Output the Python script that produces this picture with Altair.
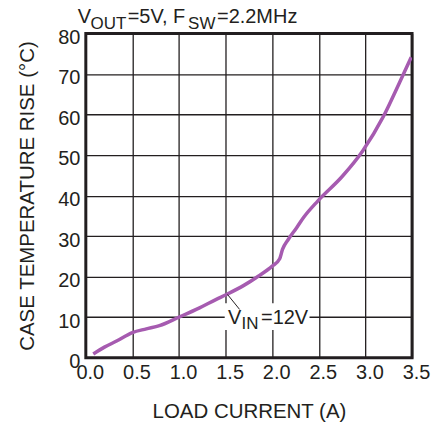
import altair as alt
import pandas as pd

# Curve data (V_IN = 12V)
load_current = [0.08, 0.2, 0.33, 0.5, 0.65, 0.79, 1.0, 1.22, 1.4, 1.51, 1.7, 1.85,
                2.0, 2.08, 2.11, 2.17, 2.26, 2.33, 2.49, 2.75, 2.97, 3.19, 3.36, 3.49]
temp_rise = [0.9, 2.6, 4.1, 6.2, 7.1, 7.9, 10.0, 12.3, 14.4, 15.6, 17.9, 20.1,
             22.6, 24.4, 26.7, 29.1, 32.0, 34.4, 38.7, 44.7, 51.0, 59.4, 67.6, 74.1]

x_ticks = [0.0, 0.5, 1.0, 1.5, 2.0, 2.5, 3.0, 3.5]
y_ticks = [0, 10, 20, 30, 40, 50, 60, 70, 80]

FONT = "Liberation Sans"
INK = "#231f20"
PURPLE = "#a65bb0"

W, H = 327, 325

df = pd.DataFrame({"I": load_current, "T": temp_rise})

xs = alt.Scale(domain=[0, 3.5], nice=False)
ys = alt.Scale(domain=[0, 80], nice=False)

line = alt.Chart(df).mark_line(
    color=PURPLE, strokeWidth=3.5, interpolate="monotone", clip=True
).encode(
    x=alt.X("I:Q", scale=xs,
            axis=alt.Axis(values=x_ticks, format=".1f", title="LOAD CURRENT (A)",
                          grid=True, domain=False, ticks=False, labelFlush=False,
                          labelPadding=5, labelOffset=4,
                          titleBaseline="alphabetic", titleY=60, titleX=W / 2)),
    y=alt.Y("T:Q", scale=ys,
            axis=alt.Axis(values=y_ticks, format="d", title="CASE TEMPERATURE RISE (°C)",
                          grid=True, domain=False, ticks=False, labelFlush=False,
                          labelPadding=6, labelOffset=4,
                          titleBaseline="alphabetic", titleX=-52, titleY=H / 2)),
)

# Annotation: white box, leader line, V_IN=12V text
box_df = pd.DataFrame({"x": [1.49], "x2": [2.40], "y": [6.8], "y2": [13.4]})
box = alt.Chart(box_df).mark_rect(color="white").encode(
    x=alt.X("x:Q", scale=xs), x2="x2:Q", y=alt.Y("y:Q", scale=ys), y2="y2:Q")

leader_df = pd.DataFrame({"x": [1.52, 1.65], "y": [15.6, 11.9]})
leader = alt.Chart(leader_df).mark_line(color=INK, strokeWidth=1).encode(
    x=alt.X("x:Q", scale=xs), y=alt.Y("y:Q", scale=ys))

ann_df = pd.DataFrame({
    "x": [1.525, 1.67, 1.88],
    "y": [8.2, 7.0, 8.2],
    "t": ["V", "IN", "=12V"],
    "s": [20, 17, 20],
})
ann = alt.Chart(ann_df).mark_text(
    align="left", baseline="alphabetic", font=FONT, color=INK
).encode(
    x=alt.X("x:Q", scale=xs), y=alt.Y("y:Q", scale=ys), text="t:N",
    size=alt.Size("s:Q", scale=None, legend=None))

# Title with subscripts, drawn as text pieces above the plot
title_df = pd.DataFrame({
    "px": [-8, 4.7, 42, 102.5, 131.5],
    "py": [-10, -4.5, -10, -4.5, -10],
    "t": ["V", "OUT", "=5V, F", "SW", "=2.2MHz"],
    "s": [20, 17, 20, 17, 20],
})
title = alt.Chart(title_df).mark_text(
    align="left", baseline="alphabetic", font=FONT, color=INK
).encode(
    x=alt.X("px:Q", scale=None), y=alt.Y("py:Q", scale=None), text="t:N",
    size=alt.Size("s:Q", scale=None, legend=None))

chart = alt.layer(line, box, leader, ann, title).properties(
    width=W, height=H,
    autosize=alt.AutoSizeParams(type="none"),
    padding={"left": 78, "top": 25, "right": 24, "bottom": 67},
).configure_view(
    stroke=INK, strokeWidth=3
).configure_axis(
    gridColor=INK, gridWidth=1.3, gridOpacity=1,
    labelFont=FONT, labelFontSize=20, labelColor=INK,
    titleFont=FONT, titleFontSize=20.5, titleColor=INK, titleFontWeight="normal",
)

chart.save("out.html", embed_options={"renderer": "svg", "actions": False})
